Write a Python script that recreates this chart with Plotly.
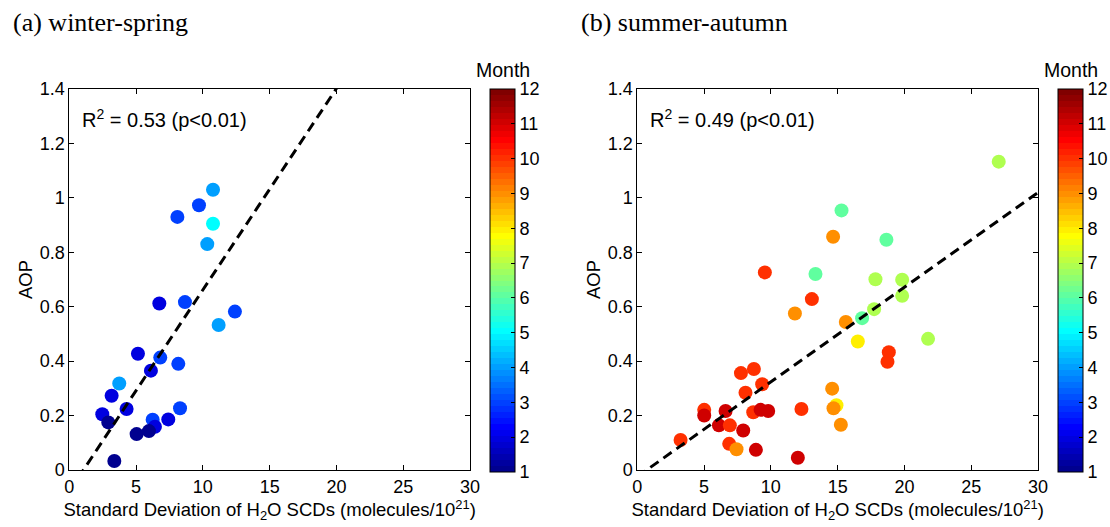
import plotly.graph_objects as go

# (a) winter-spring
ws_sd = [10.76, 9.71, 8.09, 10.76, 10.33, 6.74, 8.66, 12.40, 11.18, 5.14, 6.81, 8.16, 6.11,
         3.74, 3.17, 4.29, 8.29, 2.47, 2.92, 6.24, 7.41, 6.41, 5.04, 5.96, 3.37]
ws_aop = [1.03, 0.973, 0.930, 0.905, 0.830, 0.612, 0.617, 0.582, 0.533, 0.427, 0.413, 0.390, 0.365,
          0.318, 0.273, 0.224, 0.227, 0.205, 0.175, 0.185, 0.186, 0.159, 0.132, 0.143, 0.033]
ws_month = [4, 3, 3, 5, 4, 2, 3, 3, 4, 2, 3, 3, 2,
            4, 2, 2, 3, 2, 1, 3, 2, 2, 1, 1, 1]
ws_fit = [0.074, -0.078]  # slope, intercept

# (b) summer-autumn
sa_sd = [27.06, 15.29, 14.66, 18.65, 9.55, 13.34, 17.83, 19.83, 13.07, 19.83, 17.73, 11.80, 16.83,
         15.61, 16.51, 21.77, 18.83, 18.73, 7.76, 8.73, 9.35, 8.10, 14.59, 14.91, 14.69, 12.29,
         5.01, 6.61, 8.68, 9.23, 9.80, 5.01, 15.24, 6.11, 6.93, 7.93, 3.24, 6.88, 7.43, 8.88, 12.02]
sa_aop = [1.133, 0.954, 0.857, 0.846, 0.726, 0.720, 0.701, 0.699, 0.628, 0.640, 0.591, 0.575, 0.558,
          0.544, 0.472, 0.482, 0.433, 0.398, 0.356, 0.371, 0.315, 0.284, 0.299, 0.238, 0.227, 0.224,
          0.221, 0.217, 0.212, 0.221, 0.217, 0.200, 0.166, 0.164, 0.164, 0.145, 0.110, 0.096, 0.076,
          0.074, 0.045]
sa_month = [7, 6, 9, 6, 10, 6, 7, 7, 10, 7, 7, 9, 6,
            9, 8, 7, 10, 10, 10, 10, 10, 10, 9, 8, 9, 10,
            10, 11, 10, 11, 11, 11, 9, 11, 10, 11, 10, 10, 9, 11, 11]
sa_fit = [0.0348, -0.0244]

x_ticks = [0, 5, 10, 15, 20, 25, 30]
y_ticks = [0, 0.2, 0.4, 0.6, 0.8, 1.0, 1.2, 1.4]
month_ticks = list(range(1, 13))
titles = ["(a) winter-spring", "(b) summer-autumn"]
r2_texts = ["R<sup>2</sup> = 0.53 (p<0.01)", "R<sup>2</sup> = 0.49 (p<0.01)"]


# MATLAB-style jet(64) discrete colormap
def matlab_jet(n=64):
    m = n // 4
    u = [i / m for i in range(1, m + 1)] + [1.0] * (m - 1) + [i / m for i in range(m, 0, -1)]
    g0 = (m + 1) // 2 - (1 if n % 4 == 1 else 0)
    cols = [[0.0, 0.0, 0.0] for _ in range(n)]
    for k, val in enumerate(u):
        gi = g0 + k + 1
        for ch, idx in ((1, gi), (0, gi + m), (2, gi - m)):
            if 1 <= idx <= n:
                cols[idx - 1][ch] = val
    scale = []
    for i, c in enumerate(cols):
        s = "rgb(%d,%d,%d)" % tuple(round(v * 255) for v in c)
        scale.append([i / n, s])
        scale.append([(i + 1) / n, s])
    return scale


jet = matlab_jet()

FONT = "Liberation Sans, Arial, sans-serif"
W, H = 1110, 527
ML, MR, MT, MB = 69, 26, 89, 57
PW, PH = W - ML - MR, H - MT - MB


def px(x):
    return (x - ML) / PW


def py(y):
    return (H - MB - y) / PH


fig = go.Figure()

panels = [
    (ws_sd, ws_aop, ws_month, ws_fit, "x", "y", "coloraxis"),
    (sa_sd, sa_aop, sa_month, sa_fit, "x2", "y2", "coloraxis2"),
]
for sd, aop, mon, fit, xa, ya, ca in panels:
    fig.add_trace(go.Scatter(x=sd, y=aop, mode="markers", xaxis=xa, yaxis=ya,
                             marker=dict(size=14, color=mon, coloraxis=ca, line=dict(width=0),
                                         opacity=1),
                             showlegend=False))
    lx = [x_ticks[0], x_ticks[-1]]
    ly = [fit[0] * v + fit[1] for v in lx]
    fig.add_trace(go.Scatter(x=lx, y=ly, mode="lines", xaxis=xa, yaxis=ya,
                             line=dict(color="black", width=3, dash="10px,6px"),
                             showlegend=False))

dom_l = [px(69.3), px(470)]
dom_r = [px(637.3), px(1038)]

axis_common = dict(showgrid=False, zeroline=False, showline=True, linecolor="black", linewidth=1,
                   mirror="ticks", ticks="inside", ticklen=5, tickcolor="black", automargin=False,
                   tickfont=dict(family=FONT, size=18, color="black"))

x_title = "Standard Deviation of H<sub>2</sub>O SCDs (molecules/10<sup>21</sup>)"
for i, dom in enumerate([dom_l, dom_r]):
    sfx = "" if i == 0 else str(i + 1)
    fig.layout["xaxis" + sfx] = dict(domain=dom, range=[0, 30], tickvals=x_ticks,
                                     anchor="y" + sfx,
                                     title=dict(text=x_title, standoff=2,
                                                font=dict(family=FONT, size=18.5, color="black")),
                                     **axis_common)
    fig.layout["yaxis" + sfx] = dict(domain=[0, 1], range=[0, 1.4], tickvals=y_ticks,
                                     ticktext=[f"{v:g}" for v in y_ticks],
                                     anchor="x" + sfx,
                                     title=dict(text="AOP", standoff=2,
                                                font=dict(family=FONT, size=18.5, color="black")),
                                     **axis_common)

cb_common = dict(thickness=25, thicknessmode="pixels", len=(472 - 89) / PH, lenmode="fraction",
                 y=py(472), yanchor="bottom", xanchor="left", outlinewidth=1,
                 outlinecolor="black", tickvals=month_ticks, ticks="inside", ticklen=4,
                 tickcolor="black", tickfont=dict(family=FONT, size=18, color="black"),
                 xpad=0, ypad=0)
fig.update_layout(
    coloraxis=dict(colorscale=jet, cmin=1, cmax=12,
                   colorbar=dict(x=px(490), **cb_common)),
    coloraxis2=dict(colorscale=jet, cmin=1, cmax=12,
                    colorbar=dict(x=px(1058), **cb_common)),
)

annots = []
for i, (t, r2) in enumerate(zip(titles, r2_texts)):
    sfx = "" if i == 0 else str(i + 1)
    annots.append(dict(text=t, xref="paper", yref="paper", x=px([11, 579][i]), y=py(22),
                       xanchor="left", yanchor="middle", showarrow=False,
                       font=dict(family="Liberation Serif, Times New Roman, serif", size=26,
                                 color="black")))
    annots.append(dict(text=r2, xref="x" + sfx, yref="y" + sfx, x=0.82, y=1.29,
                       xanchor="left", yanchor="middle", showarrow=False,
                       font=dict(family=FONT, size=20, color="black")))
    annots.append(dict(text="Month", xref="paper", yref="paper", x=px([503, 1071][i]), y=py(70),
                       xanchor="center", yanchor="middle", showarrow=False,
                       font=dict(family=FONT, size=19.5, color="black")))

fig.update_layout(width=W, height=H, margin=dict(l=ML, r=MR, t=MT, b=MB, autoexpand=False),
                  paper_bgcolor="white", plot_bgcolor="white", annotations=annots,
                  font=dict(family=FONT, color="black"))

fig.write_html("out.html", config={"displayModeBar": False},
               post_script="document.body.style.margin='0px';")
